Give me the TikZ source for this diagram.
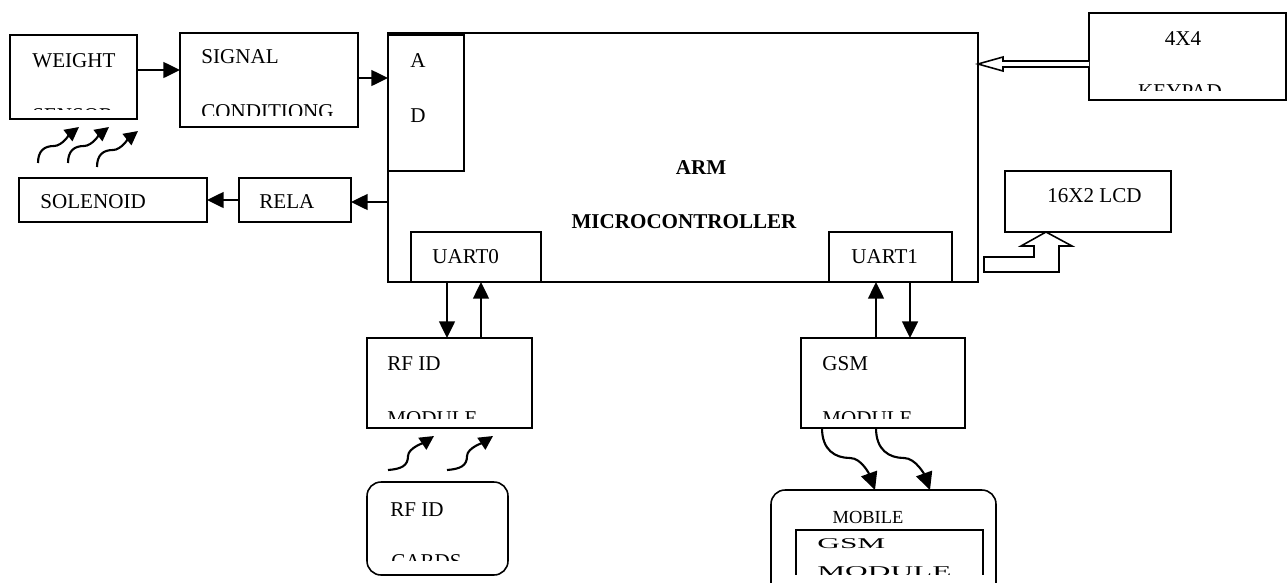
\documentclass[tikz,border=0pt]{standalone}
\usepackage{fontspec}
\setmainfont{Liberation Serif}
\usepackage{graphicx}
\usetikzlibrary{calc}
\usetikzlibrary{positioning}
\usetikzlibrary{arrows.meta}

\begin{document}
\begin{tikzpicture}[
		x=0.02cm, y=-0.02cm,
		box/.style={draw=black, line width=0.9pt, inner sep=0pt, outer sep=0pt},
		round box/.style={box, rounded corners=0.28cm},
		arrow/.style={-{Triangle[length=9.5pt, width=9pt]}, line width=1.2pt},
		wave/.style={-{Triangle[length=8pt, width=8pt]}, line width=1.2pt},
		big wave/.style={-{Triangle[length=10pt, width=9.5pt]}, line width=1.2pt},
		label text/.style={font=\fontsize{12pt}{14pt}\selectfont, inner sep=0pt, anchor=base west},
		title text/.style={label text, font=\fontsize{12pt}{14pt}\selectfont\bfseries, anchor=base},
		small text/.style={label text, font=\fontsize{10.5pt}{12pt}\selectfont, anchor=base},
		wide text/.style={label text, font=\fontsize{8.5pt}{10pt}\selectfont},
	]
	\useasboundingbox (0,0) rectangle (1287,582);
	\clip (0,0) rectangle (1287,582);
	% Blocks
	\node[box, minimum width=2.54cm, minimum height=1.68cm] (weight) at (73.5,77) {};
	\node[box, minimum width=3.56cm, minimum height=1.88cm] (signal) at (269,80) {};
	\node[box, minimum width=11.8cm, minimum height=4.98cm] (arm) at (683,157.5) {};
	\node[box, minimum width=1.52cm, minimum height=2.72cm] (ad) at (426,103) {};
	\node[box, minimum width=2.6cm, minimum height=1.0cm] (uart0) at (476,257) {};
	\node[box, minimum width=2.46cm, minimum height=1.0cm] (uart1) at (890.5,257) {};
	\node[box, minimum width=3.76cm, minimum height=0.88cm] (solenoid) at (113,200) {};
	\node[box, minimum width=2.24cm, minimum height=0.88cm] (rela) at (295,200) {};
	\node[box, minimum width=3.94cm, minimum height=1.74cm] (keypad) at (1187.5,56.5) {};
	\node[box, minimum width=3.32cm, minimum height=1.22cm] (lcd) at (1088,201.5) {};
	\node[box, minimum width=3.3cm, minimum height=1.8cm] (rfmod) at (449.5,383) {};
	\node[round box, minimum width=2.82cm, minimum height=1.86cm] (rfcard) at (437.5,528.5) {};
	\node[box, minimum width=3.28cm, minimum height=1.8cm] (gsm) at (883,383) {};
	\node[round box, minimum width=4.5cm, minimum height=2.2cm] (mobile) at (883.5,545) {};
	% Texts
	\node[label text] (weight top) at (32,67) {WEIGHT};
	\begin{scope}
		\clip (weight.north west) rectangle ($(weight.south east)+(0,-9)$);
		\node[label text] (weight bottom) at (32,122) {SENSOR};
	\end{scope}
	\node[label text] (signal top) at (201,63) {SIGNAL};
	\begin{scope}
		\clip (signal.north west) rectangle ($(signal.south east)+(0,-11)$);
		\node[label text] (signal bottom) at (201,118) {CONDITIONG};
	\end{scope}
	\node[label text] (ad top) at (410,67) {A};
	\node[label text] (ad bottom) at (410,122) {D};
	\node[title text] (arm top) at (701,174) {ARM};
	\node[title text] (arm bottom) at (684,228) {MICROCONTROLLER};
	\node[label text] (uart0 text) at (432,263) {UART0};
	\node[label text] (uart1 text) at (851,263) {UART1};
	\node[label text] (solenoid text) at (40,208) {SOLENOID};
	\node[label text] (rela text) at (259,208) {RELA};
	\node[label text, anchor=base] (keypad top) at (1183,45) {4X4};
	\begin{scope}
		\clip (keypad.north west) rectangle ($(keypad.south east)+(0,-9)$);
		\node[label text, anchor=base] (keypad bottom) at (1180,98) {KEYPAD};
	\end{scope}
	\node[label text] (lcd text) at (1047,202) {16X2 LCD};
	\node[label text] (rfmod top) at (387,370) {RF ID};
	\begin{scope}
		\clip (rfmod.north west) rectangle ($(rfmod.south east)+(0,-10)$);
		\node[label text] (rfmod bottom) at (387,425) {MODULE};
	\end{scope}
	\node[label text] (gsm top) at (822,370) {GSM};
	\begin{scope}
		\clip (gsm.north west) rectangle ($(gsm.south east)+(0,-10)$);
		\node[label text] (gsm bottom) at (822,425) {MODULE};
	\end{scope}
	\node[label text] (rfcard top) at (390,516) {RF ID};
	\begin{scope}
		\clip (rfcard.north west) rectangle ($(rfcard.south east)+(0,-15)$);
		\node[label text] (rfcard bottom) at (391,568) {CARDS};
	\end{scope}
	\node[small text] (mobile text) at (868,523) {MOBILE};
	\begin{scope}
		\clip (790,525) rectangle (990,574);
		\draw[box] (796,600) -- (796,530) -- (983,530) -- (983,600);
		\node[wide text] (phone top) at (817,548) {\scalebox{2.1}[1]{GSM}};
		\node[wide text] (phone bottom) at (817,576) {\scalebox{2.1}[1]{MODULE}};
	\end{scope}
	% Wired links
	\draw[arrow] (weight.east |- 0,70) -- (signal.west |- 0,70);
	\draw[arrow] (signal.east |- 0,78) -- (ad.west |- 0,78);
	\draw[arrow] (arm.west |- 0,202) -- (rela.east |- 0,202);
	\draw[arrow] (rela.west) -- (solenoid.east);
	\draw[arrow] (uart0.south -| 447,0) -- (rfmod.north -| 447,0);
	\draw[arrow] (rfmod.north -| 481,0) -- (uart0.south -| 481,0);
	\draw[arrow] (gsm.north -| 876,0) -- (uart1.south -| 876,0);
	\draw[arrow] (uart1.south -| 910,0) -- (gsm.north -| 910,0);
	% Bus arrows
	\draw[box, fill=white] (keypad.west |- 0,61) -- (1003,61) -- (1003,57) -- (arm.east |- 0,64)
		-- (1003,71) -- (1003,67) -- (keypad.west |- 0,67);
	\draw[box, fill=white] (984,257) -- (1034,257) -- (1034,246) -- (1021,246) -- (lcd.south -| 1046,0)
		-- (1072,246) -- (1059,246) -- (1059,272) -- (984,272) -- cycle;
	% Wireless links
	\draw[wave] ($(weight.south west)+(28,44)$) .. controls +(0,-12) and +(-10,0) .. ++(16,-17)
		.. controls +(8,0) and +(-9,7) .. ++(25,-19);
	\draw[wave] ($(weight.south west)+(58,44)$) .. controls +(0,-12) and +(-10,0) .. ++(16,-17)
		.. controls +(8,0) and +(-9,7) .. ++(25,-19);
	\draw[wave] ($(weight.south west)+(87,48)$) .. controls +(0,-12) and +(-10,0) .. ++(16,-17)
		.. controls +(8,0) and +(-9,7) .. ++(25,-19);
	\draw[wave] ($(rfmod.south west)+(21,42)$) .. controls +(13,-1) and +(0,10) .. ++(20,-14)
		.. controls +(0,-8) and +(-9,6) .. ++(26,-20);
	\draw[wave] ($(rfmod.south west)+(80,42)$) .. controls +(13,-1) and +(0,10) .. ++(20,-14)
		.. controls +(0,-8) and +(-9,6) .. ++(26,-20);
	\draw[big wave] (gsm.south -| 822,0) .. controls +(0,22) and +(-15,0) .. ++(28,30)
		.. controls +(12,0) and +(-5,-14) .. (mobile.north -| 875,0);
	\draw[big wave] (gsm.south -| 876,0) .. controls +(0,22) and +(-15,0) .. ++(28,30)
		.. controls +(12,0) and +(-5,-14) .. (mobile.north -| 930,0);
\end{tikzpicture}
\end{document}
